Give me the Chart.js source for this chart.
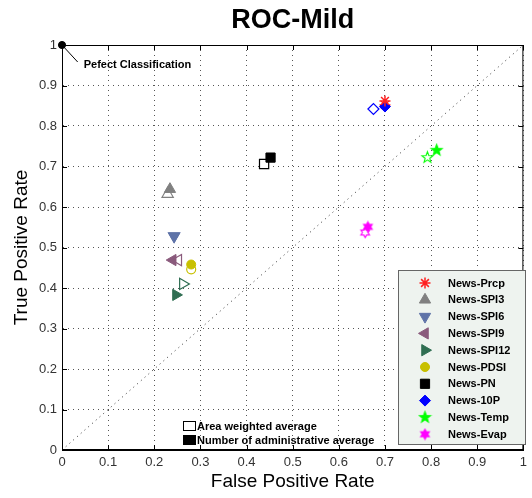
<!DOCTYPE html>
<html>
<head>
<meta charset="utf-8">
<script src="https://cdn.jsdelivr.net/npm/chart.js@4.4.1/dist/chart.umd.min.js"></script>
<style>
  html, body { margin: 0; padding: 0; background: #fff; }
  #wrap { width: 532px; height: 498px; }
</style>
</head>
<body>
<div id="wrap"><canvas id="rocChart" width="532" height="498"></canvas></div>
<script>
// data
var categories = ['News-Prcp', 'News-SPI3', 'News-SPI6', 'News-SPI9', 'News-SPI12',
                  'News-PDSI', 'News-PN', 'News-10P', 'News-Temp', 'News-Evap'];
// "Number of administrative average" (filled markers)
var adminFpr = [0.700, 0.234, 0.243, 0.240, 0.247, 0.280, 0.452, 0.700, 0.812, 0.663];
var adminTpr = [0.862, 0.644, 0.528, 0.469, 0.383, 0.458, 0.722, 0.848, 0.740, 0.551];
// "Area weighted average" (open markers)
var areaFpr = [0.700, 0.229, 0.243, 0.252, 0.262, 0.280, 0.438, 0.675, 0.792, 0.657];
var areaTpr = [0.852, 0.632, 0.528, 0.469, 0.410, 0.446, 0.706, 0.842, 0.722, 0.537];
var tickLabels = ['0', '0.1', '0.2', '0.3', '0.4', '0.5', '0.6', '0.7', '0.8', '0.9', '1'];
var diagonal = [{x: 0, y: 0}, {x: 1, y: 1}];
var perfectPoint = [{x: 0, y: 1}];
var perfectLeader = [{x: 0, y: 1}, {x: 0.034, y: 0.958}];

var colors = ['#ff2020', '#808080', '#5f73a8', '#8a5a7c', '#2f6e52',
              '#c8c000', '#000000', '#0000ff', '#00ff00', '#ff00ff'];

function starCanvas(n, outer, inner, color, filled) {
    var size = Math.ceil(outer * 2 + 3);
    var c = document.createElement('canvas');
    c.width = size; c.height = size;
    var g = c.getContext('2d');
    var cx = size / 2, cy = size / 2;
    g.beginPath();
    for (var i = 0; i < n * 2; i++) {
        var r = (i % 2 === 0) ? outer : inner;
        var a = -Math.PI / 2 + i * Math.PI / n;
        var px = cx + r * Math.cos(a), py = cy + r * Math.sin(a);
        if (i === 0) g.moveTo(px, py); else g.lineTo(px, py);
    }
    g.closePath();
    g.lineWidth = 1.1;
    g.strokeStyle = color;
    if (filled) { g.fillStyle = color; g.fill(); }
    g.stroke();
    return c;
}

var styleFilled = [
    {s: 'star', r: 5.5, rot: 0},
    {s: 'triangle', r: 6.5, rot: 0},
    {s: 'triangle', r: 6.5, rot: 180},
    {s: 'triangle', r: 6.5, rot: 270},
    {s: 'triangle', r: 6.5, rot: 90},
    {s: 'circle', r: 4.5, rot: 0},
    {s: 'rect', r: 6.5, rot: 0},
    {s: 'rectRot', r: 5.5, rot: 0},
    {s: starCanvas(5, 5.8, 2.4, colors[8], true), r: 6, rot: 0},
    {s: starCanvas(6, 5, 2.8, colors[9], true), r: 5, rot: 0}
];
var styleOpen = styleFilled.map(function (st, i) {
    if (i === 8) return {s: starCanvas(5, 5.8, 2.4, colors[8], false), r: 6, rot: 0};
    if (i === 9) return {s: starCanvas(6, 5, 2.8, colors[9], false), r: 5, rot: 0};
    return st;
});

var datasets = [];
categories.forEach(function (name, i) {
    datasets.push({
        label: name,
        data: [{x: adminFpr[i], y: adminTpr[i]}],
        pointStyle: styleFilled[i].s,
        rotation: styleFilled[i].rot,
        pointRadius: styleFilled[i].r,
        borderColor: colors[i],
        backgroundColor: colors[i],
        borderWidth: i === 0 ? 1.5 : 1,
        order: 1
    });
});
categories.forEach(function (name, i) {
    datasets.push({
        label: name + ' (area)',
        data: [{x: areaFpr[i], y: areaTpr[i]}],
        pointStyle: styleOpen[i].s,
        rotation: styleOpen[i].rot,
        pointRadius: styleOpen[i].r,
        borderColor: colors[i],
        backgroundColor: '#ffffff',
        borderWidth: 1.2,
        order: 2
    });
});
datasets.push({
    type: 'line', label: 'diag', data: diagonal,
    borderColor: '#333', borderWidth: 1, borderDash: [1, 4],
    pointRadius: 0, fill: false, order: 5
});
datasets.push({
    type: 'line', label: 'leader', data: perfectLeader,
    borderColor: '#000', borderWidth: 1, pointRadius: 0, fill: false, order: 4
});
datasets.push({
    label: 'perfect', data: perfectPoint, pointStyle: 'circle', pointRadius: 3.5,
    borderColor: '#000', backgroundColor: '#000', order: 0, clip: false
});

var decorPlugin = {
    id: 'decor',
    afterDraw: function (chart) {
        var ctx = chart.ctx;
        var a = chart.chartArea;
        var xs = chart.scales.x, ys = chart.scales.y;
        ctx.save();

        // box + inward ticks
        ctx.strokeStyle = '#000';
        ctx.lineWidth = 1;
        ctx.strokeRect(a.left + 0.5, a.top + 0.5, a.right - a.left - 1, a.bottom - a.top - 1);
        ctx.beginPath();
        for (var k = 0; k < tickLabels.length; k++) {
            var px = Math.round(xs.getPixelForValue(k / 10)) + 0.5;
            var py = Math.round(ys.getPixelForValue(k / 10)) + 0.5;
            ctx.moveTo(px, a.bottom); ctx.lineTo(px, a.bottom - 5);
            ctx.moveTo(px, a.top); ctx.lineTo(px, a.top + 5);
            ctx.moveTo(a.left, py); ctx.lineTo(a.left + 5, py);
            ctx.moveTo(a.right, py); ctx.lineTo(a.right - 5, py);
        }
        ctx.stroke();

        // perfect classification dot on top of the frame
        ctx.fillStyle = '#000';
        ctx.beginPath();
        ctx.arc(xs.getPixelForValue(perfectPoint[0].x), ys.getPixelForValue(perfectPoint[0].y), 3.5, 0, Math.PI * 2);
        ctx.fill();

        // titles
        ctx.textAlign = 'center';
        ctx.textBaseline = 'middle';
        ctx.font = 'bold 27px "Liberation Sans", Arial, sans-serif';
        ctx.fillText('ROC-Mild', (a.left + a.right) / 2, 21);
        ctx.font = '19px "Liberation Sans", Arial, sans-serif';
        ctx.fillText('False Positive Rate', (a.left + a.right) / 2, 482);
        ctx.save();
        ctx.translate(22, (a.top + a.bottom) / 2);
        ctx.rotate(-Math.PI / 2);
        ctx.fillText('True Positive Rate', 0, 0);
        ctx.restore();

        // perfect classification note
        ctx.font = 'bold 11px "Liberation Sans", Arial, sans-serif';
        ctx.textAlign = 'left';
        ctx.fillText('Pefect Classification', xs.getPixelForValue(0.047), ys.getPixelForValue(0.95));

        // series legend box
        var lx = 398, ly = 270, lw = 127, lh = 174;
        ctx.fillStyle = '#eef3ef';
        ctx.fillRect(lx, ly, lw, lh);
        ctx.strokeStyle = '#666';
        ctx.strokeRect(lx + 0.5, ly + 0.5, lw, lh);
        categories.forEach(function (name, i) {
            var y = 283 + i * 16.8;
            ctx.fillStyle = colors[i];
            ctx.strokeStyle = colors[i];
            ctx.lineWidth = i === 0 ? 1.5 : 1;
            Chart.helpers.drawPoint(ctx, {
                pointStyle: styleFilled[i].s, rotation: styleFilled[i].rot,
                radius: styleFilled[i].r, borderWidth: 1
            }, 425, y);
            ctx.fillStyle = '#000';
            ctx.font = 'bold 11px "Liberation Sans", Arial, sans-serif';
            ctx.textAlign = 'left';
            ctx.textBaseline = 'middle';
            ctx.fillText(name, 448, y + 0.5);
        });

        // averaging legend
        ctx.lineWidth = 1;
        ctx.strokeStyle = '#000';
        ctx.fillStyle = '#fff';
        ctx.fillRect(183.5, 421.5, 12, 9);
        ctx.strokeRect(183.5, 421.5, 12, 9);
        ctx.fillStyle = '#000';
        ctx.fillRect(183, 435, 13, 10);
        ctx.font = 'bold 11px "Liberation Sans", Arial, sans-serif';
        ctx.fillText('Area weighted average', 197, 427);
        ctx.fillText('Number of administrative average', 197, 441);
        ctx.restore();
    }
};

var axisTicks = {
    color: '#333',
    font: {family: '"Liberation Sans", Arial, sans-serif', size: 13},
    stepSize: 0.1,
    callback: function (v) { return tickLabels[Math.round(v * 10)]; }
};

var ctx = document.getElementById('rocChart').getContext('2d');
var chart = new Chart(ctx, {
    type: 'scatter',
    data: {datasets: datasets},
    options: {
        responsive: false,
        animation: false,
        layout: {padding: {top: 45, right: 1, left: 0, bottom: 0}},
        plugins: {legend: {display: false}, tooltip: {enabled: false}},
        scales: {
            x: {
                type: 'linear', min: 0, max: 1,
                ticks: Object.assign({padding: 5}, axisTicks),
                grid: {color: '#555', lineWidth: 1, drawTicks: false},
                border: {display: true, color: '#000', dash: [1, 4]},
                afterFit: function (s) { s.height = 48; }
            },
            y: {
                type: 'linear', min: 0, max: 1,
                ticks: Object.assign({padding: 5}, axisTicks),
                grid: {color: '#555', lineWidth: 1, drawTicks: false},
                border: {display: true, color: '#000', dash: [1, 4]},
                afterFit: function (s) { s.width = 62; }
            }
        }
    },
    plugins: [decorPlugin]
});
</script>
</body>
</html>
